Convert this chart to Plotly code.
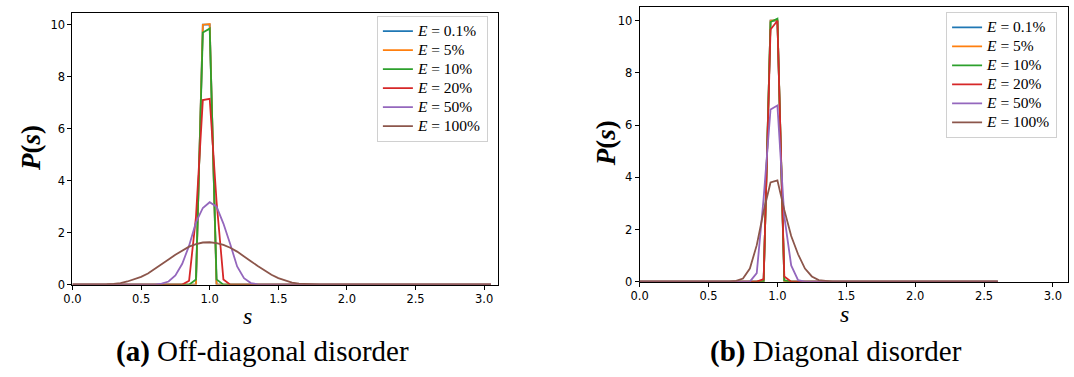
import plotly.graph_objects as go

# Level-spacing distributions P(s), binned with width 0.05
LABELS = ["0.1%", "5%", "10%", "20%", "50%", "100%"]
COLORS = ["#1f77b4", "#ff7f0e", "#2ca02c", "#d62728", "#9467bd", "#8c564b"]

# (a) off-diagonal disorder
s_a_01 = [0.0, 0.90, 0.95, 1.00, 1.05, 3.05]
p_a_01 = [0.0, 0.0, 10.0, 10.0, 0.0, 0.0]
s_a_05 = [0.0, 0.90, 0.95, 1.00, 1.05, 3.05]
p_a_05 = [0.0, 0.0, 10.0, 10.03, 0.0, 0.0]
s_a_10 = [0.0, 0.85, 0.90, 0.95, 1.00, 1.05, 1.10, 3.05]
p_a_10 = [0.0, 0.0, 0.2, 9.7, 9.85, 0.2, 0.0, 0.0]
s_a_20 = [0.0, 0.80, 0.85, 0.90, 0.95, 1.00, 1.05, 1.10, 1.15, 3.05]
p_a_20 = [0.0, 0.0, 0.15, 2.6, 7.1, 7.15, 3.2, 0.2, 0.0, 0.0]
s_a_50 = [0.0, 0.60, 0.65, 0.70, 0.75, 0.80, 0.85, 0.90, 0.95, 1.00,
          1.05, 1.10, 1.15, 1.20, 1.25, 1.30, 1.35, 1.40, 3.05]
p_a_50 = [0.0, 0.0, 0.04, 0.12, 0.35, 0.8, 1.5, 2.4, 2.95, 3.17,
          3.0, 2.35, 1.55, 0.7, 0.25, 0.06, 0.01, 0.0, 0.0]
s_a_100 = [0.0, 0.20, 0.25, 0.30, 0.35, 0.40, 0.45, 0.50, 0.55, 0.60, 0.65,
           0.70, 0.75, 0.80, 0.85, 0.90, 0.95, 1.00, 1.05, 1.10, 1.15,
           1.20, 1.25, 1.30, 1.35, 1.40, 1.45, 1.50, 1.55, 1.60, 1.65,
           1.70, 1.75, 1.80, 3.05]
p_a_100 = [0.0, 0.0, 0.01, 0.03, 0.06, 0.12, 0.2, 0.3, 0.43, 0.6, 0.78,
           0.97, 1.15, 1.32, 1.46, 1.56, 1.62, 1.63, 1.6, 1.53, 1.42,
           1.27, 1.1, 0.9, 0.72, 0.54, 0.38, 0.25, 0.15, 0.08, 0.04,
           0.02, 0.01, 0.0, 0.0]

# (b) diagonal disorder
s_b_01 = [0.0, 0.90, 0.95, 1.00, 1.05, 2.60]
p_b_01 = [0.0, 0.0, 10.0, 10.0, 0.0, 0.0]
s_b_05 = [0.0, 0.90, 0.95, 1.00, 1.05, 2.60]
p_b_05 = [0.0, 0.0, 10.0, 10.02, 0.0, 0.0]
s_b_10 = [0.0, 0.85, 0.90, 0.95, 1.00, 1.05, 1.10, 2.60]
p_b_10 = [0.0, 0.0, 0.03, 9.95, 10.08, 0.05, 0.0, 0.0]
s_b_20 = [0.0, 0.85, 0.90, 0.95, 1.00, 1.05, 1.10, 2.60]
p_b_20 = [0.0, 0.0, 0.1, 9.66, 10.0, 0.2, 0.0, 0.0]
s_b_50 = [0.0, 0.80, 0.85, 0.90, 0.95, 1.00, 1.05, 1.10, 1.15, 1.20, 2.60]
p_b_50 = [0.0, 0.0, 0.33, 3.2, 6.6, 6.75, 2.5, 0.62, 0.06, 0.0, 0.0]
s_b_100 = [0.0, 0.65, 0.70, 0.75, 0.80, 0.85, 0.90, 0.95, 1.00, 1.05,
           1.10, 1.15, 1.20, 1.25, 1.30, 1.35, 1.40, 2.60]
p_b_100 = [0.0, 0.0, 0.03, 0.12, 0.5, 1.4, 2.7, 3.8, 3.88, 2.75,
           1.75, 1.05, 0.5, 0.2, 0.06, 0.02, 0.0, 0.0]

panel_a = [(s_a_01, p_a_01), (s_a_05, p_a_05), (s_a_10, p_a_10),
           (s_a_20, p_a_20), (s_a_50, p_a_50), (s_a_100, p_a_100)]
panel_b = [(s_b_01, p_b_01), (s_b_05, p_b_05), (s_b_10, p_b_10),
           (s_b_20, p_b_20), (s_b_50, p_b_50), (s_b_100, p_b_100)]

W, H = 1074, 377
SERIF = "Liberation Serif"


def px_x(v):
    return v / W


def px_y(v):
    return 1 - v / H


fig = go.Figure()

for panel, xa, ya, leg in [(panel_a, "x", "y", "legend"),
                           (panel_b, "x2", "y2", "legend2")]:
    for (s, p), lab, col in zip(panel, LABELS, COLORS):
        fig.add_trace(go.Scatter(
            x=s, y=p, mode="lines", xaxis=xa, yaxis=ya, legend=leg,
            line=dict(color=col, width=1.8),
            name='<span style="font-size:15.5px"><i>E</i> = ' + lab + '</span>',
            showlegend=True,
        ))

axis_common = dict(
    showgrid=False, zeroline=False, showline=True, linecolor="black",
    linewidth=1, mirror=True, ticks="outside", ticklen=4, tickwidth=1,
    tickcolor="black", tickfont=dict(family="DejaVu Sans", size=11.5, color="black"),
    layer="below traces",
)

legend_common = dict(
    bgcolor="white", bordercolor="#d0d0d0", borderwidth=1,
    font=dict(family=SERIF, size=12, color="black"),
    xanchor="left", yanchor="top", tracegroupgap=0, itemwidth=30,
)

fig.update_layout(
    width=W, height=H,
    margin=dict(l=0, r=0, t=0, b=0),
    paper_bgcolor="white", plot_bgcolor="white",
    xaxis=dict(domain=[px_x(64), px_x(493)], range=[0, 3.1], anchor="y",
               tickvals=[0, 0.5, 1, 1.5, 2, 2.5, 3], tickformat=".1f", **axis_common),
    yaxis=dict(domain=[px_y(290), px_y(13)], range=[0, 10.46], anchor="x",
               tickvals=[0, 2, 4, 6, 8, 10], **axis_common),
    xaxis2=dict(domain=[px_x(636), px_x(1068)], range=[0, 3.11], anchor="y2",
                tickvals=[0, 0.5, 1, 1.5, 2, 2.5, 3], tickformat=".1f", **axis_common),
    yaxis2=dict(domain=[px_y(287), px_y(7)], range=[0, 10.53], anchor="x2",
                tickvals=[0, 2, 4, 6, 8, 10], **axis_common),
    legend=dict(x=px_x(371), y=px_y(16), **legend_common),
    legend2=dict(x=px_x(945), y=px_y(12), **legend_common),
    showlegend=True,
)

annotations = [
    # y-axis titles
    dict(x=px_x(22), y=px_y(151), text="<b><i>P</i>(<i>s</i>)</b>", textangle=-90,
         font=dict(family=SERIF, size=27, color="black")),
    dict(x=px_x(602), y=px_y(146), text="<b><i>P</i>(<i>s</i>)</b>", textangle=-90,
         font=dict(family=SERIF, size=27, color="black")),
    # x-axis titles
    dict(x=px_x(241), y=px_y(322), text="<i>s</i>",
         font=dict(family=SERIF, size=24, color="black")),
    dict(x=px_x(843), y=px_y(320), text="<i>s</i>",
         font=dict(family=SERIF, size=24, color="black")),
    # panel captions
    dict(x=px_x(256), y=px_y(358), text="<b>(a)</b> Off-diagonal disorder",
         font=dict(family=SERIF, size=29, color="black")),
    dict(x=px_x(834), y=px_y(358), text="<b>(b)</b> Diagonal disorder",
         font=dict(family=SERIF, size=29, color="black")),
]
for a in annotations:
    a.update(xref="paper", yref="paper", showarrow=False,
             xanchor="center", yanchor="middle")
fig.update_layout(annotations=annotations)

fig.write_html("out.html")
